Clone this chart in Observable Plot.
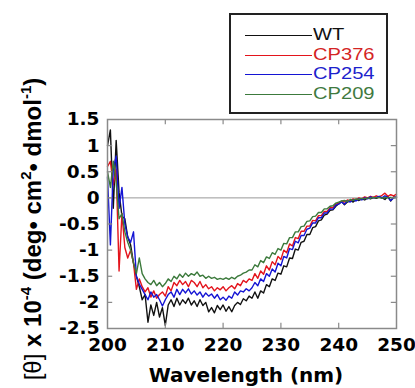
<!DOCTYPE html>
<html>
<head>
<meta charset="utf-8">
<script src="https://cdn.jsdelivr.net/npm/d3@7"></script>
<script src="https://cdn.jsdelivr.net/npm/@observablehq/plot@0.6"></script>
<style>
  html, body { margin: 0; padding: 0; background: #fff; }
  #wrap { position: relative; width: 415px; height: 388px; overflow: hidden; }
  #legend { position: absolute; left: 229px; top: 13px; width: 155px; height: 97px;
            border: 2px solid #222; background: #fff; font-family: "Liberation Sans", Arial, sans-serif; font-size: 16.8px; }
  .row { position: absolute; left: 0; height: 18px; line-height: 18px; white-space: nowrap; }
  .sw { position: absolute; left: 14px; width: 67px; top: 9px; border-top: 1px solid; }
  .lb { position: absolute; left: 82px; top: 0; display: inline-block; transform: scaleX(1.2); transform-origin: 0 50%; }
</style>
</head>
<body>
<div id="wrap"></div>
<script>
// ---- data ----
const wavelength = [
  200,200.5,201,201.5,202,202.5,203,203.5,204,204.5,
  205,205.5,206,206.5,207,207.5,208,208.5,209,209.5,
  210,210.5,211,211.5,212,212.5,213,213.5,214,214.5,
  215,215.5,216,216.5,217,217.5,218,218.5,219,219.5,
  220,220.5,221,221.5,222,222.5,223,223.5,224,224.5,
  225,225.5,226,226.5,227,227.5,228,228.5,229,229.5,
  230,230.5,231,231.5,232,232.5,233,233.5,234,234.5,
  235,235.5,236,236.5,237,237.5,238,238.5,239,239.5,
  240,240.5,241,241.5,242,242.5,243,243.5,244,244.5,
  245,245.5,246,246.5,247,247.5,248,248.5,249,249.5,
  250];

const seriesNames = ["WT", "CP376", "CP254", "CP209"];
const seriesColors = ["#111111", "#e3141c", "#1414d4", "#3c7a3c"];
const labelColors = ["#111111", "#d42424", "#1c22cc", "#3f7a3f"];

const wt = [
  1.00,1.30,-0.20,1.10,0.10,-0.35,-0.40,-0.75,-0.90,-1.25,
  -1.50,-1.70,-1.95,-1.85,-2.38,-2.05,-2.25,-2.00,-2.28,-2.10,
  -2.44,-2.05,-1.95,-2.08,-1.92,-2.05,-1.95,-2.02,-1.92,-2.05,
  -1.97,-2.08,-1.95,-2.06,-2.00,-2.18,-2.10,-2.20,-2.06,-2.14,
  -2.05,-2.17,-2.08,-2.18,-2.06,-2.00,-2.04,-1.93,-1.97,-1.88,
  -1.92,-1.80,-1.92,-1.78,-1.82,-1.66,-1.70,-1.55,-1.58,-1.44,
  -1.46,-1.30,-1.32,-1.15,-1.16,-0.98,-1.00,-0.85,-0.83,-0.70,
  -0.70,-0.57,-0.55,-0.44,-0.42,-0.33,-0.31,-0.24,-0.23,-0.16,
  -0.11,-0.07,-0.13,-0.08,-0.05,-0.08,-0.03,-0.05,-0.02,-0.04,
  0.00,-0.02,0.01,-0.01,0.02,0.00,-0.03,0.03,-0.06,0.02,
  0.01];

const cp376 = [
  0.60,0.70,0.25,0.55,-1.40,-0.30,-0.95,-1.15,-1.00,-1.25,
  -1.75,-1.55,-1.70,-1.80,-1.72,-1.90,-1.78,-1.92,-1.85,-1.80,
  -1.88,-1.70,-1.78,-1.62,-1.68,-1.58,-1.66,-1.60,-1.70,-1.58,
  -1.62,-1.70,-1.60,-1.72,-1.66,-1.74,-1.70,-1.78,-1.72,-1.76,
  -1.70,-1.78,-1.72,-1.68,-1.74,-1.64,-1.68,-1.58,-1.62,-1.55,
  -1.58,-1.45,-1.54,-1.40,-1.46,-1.30,-1.38,-1.22,-1.28,-1.12,
  -1.18,-1.00,-1.05,-0.88,-0.92,-0.76,-0.78,-0.64,-0.64,-0.54,
  -0.54,-0.43,-0.44,-0.34,-0.34,-0.26,-0.26,-0.19,-0.19,-0.12,
  -0.10,-0.06,-0.08,-0.04,-0.06,-0.02,-0.04,0.00,-0.02,0.02,
  0.00,0.03,0.01,0.04,0.02,0.05,0.09,0.03,0.06,0.04,
  0.07];

const cp254 = [
  0.40,-0.90,0.55,0.80,-0.20,0.20,-0.50,-0.75,-0.85,-0.65,
  -1.50,-1.65,-1.75,-1.85,-1.95,-1.80,-1.90,-1.85,-1.95,-2.07,
  -1.95,-1.85,-1.80,-1.90,-1.75,-1.85,-1.75,-1.82,-1.74,-1.84,
  -1.78,-1.86,-1.80,-1.90,-1.82,-1.88,-1.84,-1.92,-1.85,-1.95,
  -1.90,-1.96,-1.88,-1.92,-1.80,-1.86,-1.78,-1.80,-1.74,-1.78,
  -1.72,-1.62,-1.68,-1.55,-1.60,-1.45,-1.50,-1.36,-1.42,-1.25,
  -1.30,-1.12,-1.15,-0.97,-0.99,-0.83,-0.86,-0.72,-0.72,-0.60,
  -0.58,-0.48,-0.48,-0.38,-0.38,-0.29,-0.29,-0.21,-0.22,-0.14,
  -0.12,-0.08,-0.12,-0.06,-0.08,-0.04,-0.06,-0.02,-0.04,0.00,
  -0.02,0.02,0.00,0.01,0.03,0.00,0.04,0.01,-0.05,0.00,
  0.02];

const cp209 = [
  0.50,0.20,0.70,0.30,-0.40,-0.30,-0.65,-0.85,-1.00,-1.25,
  -1.45,-1.15,-1.45,-1.55,-1.62,-1.66,-1.58,-1.68,-1.62,-1.70,
  -1.64,-1.55,-1.60,-1.50,-1.55,-1.46,-1.52,-1.44,-1.50,-1.45,
  -1.48,-1.42,-1.50,-1.48,-1.54,-1.50,-1.54,-1.52,-1.56,-1.54,
  -1.56,-1.53,-1.56,-1.52,-1.55,-1.50,-1.48,-1.44,-1.42,-1.38,
  -1.38,-1.28,-1.32,-1.20,-1.24,-1.13,-1.16,-1.05,-1.08,-0.97,
  -1.00,-0.87,-0.88,-0.76,-0.76,-0.65,-0.65,-0.55,-0.54,-0.45,
  -0.44,-0.36,-0.35,-0.28,-0.28,-0.21,-0.21,-0.16,-0.15,-0.10,
  -0.08,-0.06,-0.05,-0.07,-0.03,-0.05,-0.02,-0.03,-0.01,-0.02,
  0.00,-0.01,0.01,0.00,0.01,-0.01,0.01,0.00,0.01,0.00,
  0.01];

const xTicks = [200, 210, 220, 230, 240, 250];
const yTicks = [1.5, 1, 0.5, 0, -0.5, -1, -1.5, -2, -2.5];
const xInner = [210, 220, 230, 240];
const yInner = [1, 0.5, 0, -0.5, -1, -1.5, -2];
const xLabel = "Wavelength (nm)";

// ---- build ----
const seriesValues = [wt, cp376, cp254, cp209];
const rows = seriesNames.flatMap((name, i) =>
  wavelength.map((w, j) => ({name, w, v: seriesValues[i][j]})));

const xDom = [200, 250], yDom = [-2.5, 1.5];

const chart = Plot.plot({
  width: 415, height: 388,
  marginLeft: 107, marginRight: 19, marginTop: 119, marginBottom: 60,
  x: {domain: xDom},
  y: {domain: yDom},
  color: {domain: seriesNames, range: seriesColors},
  style: {fontFamily: "DejaVu Sans", fontWeight: "bold", fontSize: "18.5px", color: "#000", background: "#fff"},
  marks: [
    Plot.ruleY([0], {stroke: "#999", strokeWidth: 1}),
    Plot.line(rows, {x: "w", y: "v", z: "name", stroke: "name", strokeWidth: 1.4}),
    Plot.frame({stroke: "#8a8a8a", strokeWidth: 1.5}),
    Plot.ruleX(xInner, {x: d => d, y1: yDom[0], y2: yDom[0] + 0.1, stroke: "#8a8a8a", strokeWidth: 1.2}),
    Plot.ruleX(xInner, {x: d => d, y1: yDom[1], y2: yDom[1] - 0.1, stroke: "#8a8a8a", strokeWidth: 1.2}),
    Plot.ruleY(yInner, {y: d => d, x1: xDom[0], x2: xDom[0] + 0.9, stroke: "#8a8a8a", strokeWidth: 1.2}),
    Plot.ruleY(yInner, {y: d => d, x1: xDom[1], x2: xDom[1] - 0.9, stroke: "#8a8a8a", strokeWidth: 1.2}),
    Plot.axisX({ticks: xTicks, tickSize: 0, tickPadding: 9, tickFormat: d => String(d), label: null}),
    Plot.axisY({ticks: yTicks, tickSize: 0, tickPadding: 8, tickFormat: d => String(d), label: null})
  ]
});

const svg = d3.select(chart);
// x axis title
svg.append("text")
  .attr("x", 246).attr("y", 382)
  .attr("text-anchor", "middle")
  .attr("font-family", "DejaVu Sans").attr("font-weight", "bold").attr("font-size", 20)
  .attr("fill", "#000")
  .text(xLabel);

// y axis title with superscripts
const yt = svg.append("text")
  .attr("transform", "translate(41,229) rotate(-90)")
  .attr("text-anchor", "middle")
  .attr("font-family", "Liberation Sans, Arial, sans-serif").attr("font-weight", "bold").attr("font-size", 24)
  .attr("fill", "#000");
yt.append("tspan").attr("font-weight", "normal").text("[\u03B8]");
yt.append("tspan").text(" x 10");
yt.append("tspan").attr("font-size", 15).attr("dy", -10).text("-4");
yt.append("tspan").attr("dy", 10).text(" (deg\u2022 cm");
yt.append("tspan").attr("font-size", 15).attr("dy", -10).text("2");
yt.append("tspan").attr("dy", 10).text("\u2022 dmol");
yt.append("tspan").attr("font-size", 15).attr("dy", -10).text("-1");
yt.append("tspan").attr("dy", 10).text(")");

const wrap = document.getElementById("wrap");
wrap.appendChild(chart);

// legend
const legend = document.createElement("div");
legend.id = "legend";
seriesNames.forEach((name, i) => {
  const row = document.createElement("div");
  row.className = "row";
  row.style.top = (11 + i * 19.6) + "px";
  row.style.width = "155px";
  const sw = document.createElement("span");
  sw.className = "sw";
  sw.style.borderTopColor = seriesColors[i];
  const lb = document.createElement("span");
  lb.className = "lb";
  lb.style.color = labelColors[i];
  lb.textContent = name;
  row.appendChild(sw); row.appendChild(lb);
  legend.appendChild(row);
});
wrap.appendChild(legend);
</script>
</body>
</html>
